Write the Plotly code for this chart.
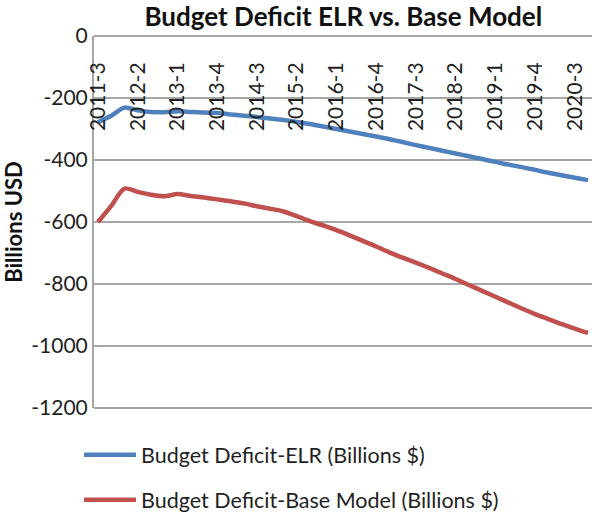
import plotly.graph_objects as go

# Quarterly periods, 2011-3 through 2020-4
quarters = [f"{y}-{q}" for y in range(2011, 2021) for q in range(1, 5)][2:]

# Budget deficit projections (billions of USD)
elr_deficit = [
    -278, -257, -231, -240, -245, -246, -243, -245, -247, -248,
    -253, -257, -261, -266, -271, -277, -284, -292, -300, -308,
    -316, -324, -333, -342, -352, -361, -370, -379, -388, -397,
    -406, -415, -423, -432, -441, -449, -457, -465,
]
base_deficit = [
    -600, -548, -492, -503, -512, -517, -510, -516, -521, -527,
    -533, -540, -549, -557, -566, -581, -597, -611, -626, -643,
    -661, -679, -698, -715, -731, -748, -766, -784, -803, -822,
    -841, -860, -879, -897, -913, -929, -944, -958,
]

series_names = ["Budget Deficit-ELR (Billions $)", "Budget Deficit-Base Model (Billions $)"]
series_colors = ["#4F81BD", "#C0504D"]

y_ticks = [0, -200, -400, -600, -800, -1000, -1200]
x_ticks = quarters[::3]

FONT = "Lato"
TEXT = "#1f1f1f"
GRID = "#a6a6a6"

fig = go.Figure()
for name, vals, color, grp in zip(series_names, [elr_deficit, base_deficit], series_colors, ["a", "b"]):
    fig.add_trace(go.Scatter(
        x=quarters, y=vals, mode="lines", name=name, legendgroup=grp,
        line=dict(color=color, width=4.5, shape="spline", smoothing=0.8),
    ))

border = dict(color=GRID, width=2)
fig.update_layout(
    width=592, height=513,
    margin=dict(l=94, r=0, t=36, b=105, autoexpand=False),
    paper_bgcolor="white", plot_bgcolor="white",
    font=dict(family=FONT, size=20, color=TEXT),
    title=dict(
        text="<b>Budget Deficit ELR vs. Base Model</b>",
        font=dict(family=FONT, size=26, color="#111111"),
        x=0.58, xanchor="center", y=0.984, yanchor="top",
    ),
    legend=dict(
        orientation="v", x=-0.03, xanchor="left",
        yref="container", y=0.1535, yanchor="top",
        font=dict(family=FONT, size=21.5, color=TEXT),
        tracegroupgap=14, itemwidth=52,
        bgcolor="rgba(0,0,0,0)",
    ),
    showlegend=True,
    # top and bottom borders of the plot area
    shapes=[
        dict(type="line", xref="paper", yref="paper", x0=0, x1=1, y0=1, y1=1, line=border, layer="below"),
        dict(type="line", xref="paper", yref="paper", x0=0, x1=1, y0=0, y1=0, line=border, layer="below"),
    ],
)

# category labels hang just under the top border, inside the plot area
fig.update_xaxes(
    type="category", range=[-0.3, 37.3], side="bottom",
    anchor="free", position=0.943,
    tickmode="array", tickvals=x_ticks, ticktext=x_ticks,
    tickangle=-90, ticks="",
    showline=False, showgrid=False, zeroline=False,
    tickfont=dict(family=FONT, size=21, color=TEXT),
)
fig.update_yaxes(
    range=[-1200, 0], tickmode="array", tickvals=y_ticks,
    ticktext=[str(v) for v in y_ticks],
    showgrid=True, gridcolor=GRID, gridwidth=2,
    showline=True, linecolor=GRID, linewidth=2,
    zeroline=False, ticks="",
    tickfont=dict(family=FONT, size=21, color=TEXT),
    title=dict(text="<b>Billions USD</b>", font=dict(family=FONT, size=22, color="#111111"), standoff=6),
)

fig.write_html("out.html")
